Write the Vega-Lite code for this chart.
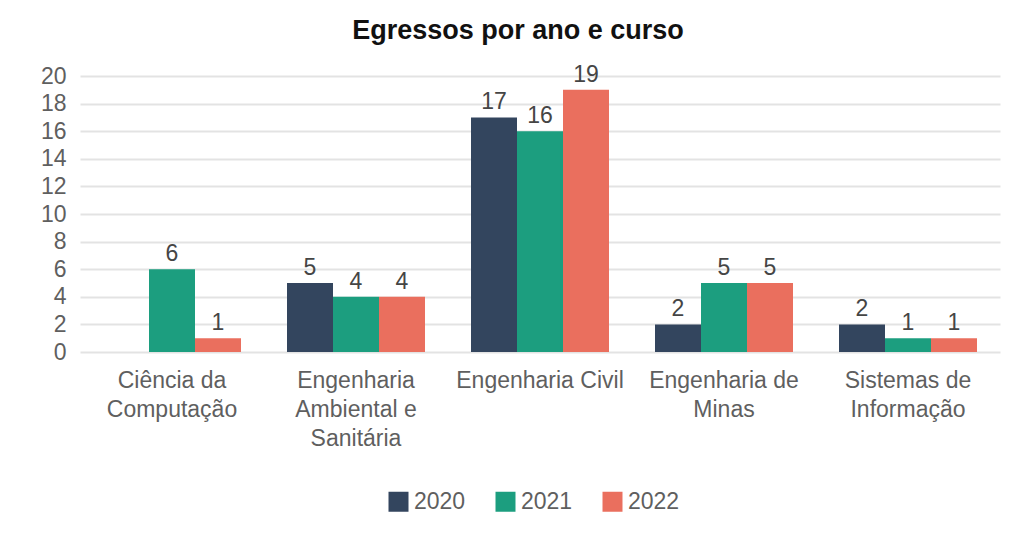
{
  "$schema": "https://vega.github.io/schema/vega-lite/v6.json",
  "width": 920,
  "height": 276,
  "autosize": "none",
  "padding": {"left": 80, "top": 76, "right": 12, "bottom": 181},
  "background": "white",
  "title": {"text": "Egressos por ano e curso", "fontSize": 27, "fontWeight": "bold", "color": "#111111", "font": "Liberation Sans", "offset": 19, "anchor": "middle", "dx": -22},
  "data": {"values": [
    {"curso": "Ciência da Computação", "ano": "2020", "egressos": null},
    {"curso": "Ciência da Computação", "ano": "2021", "egressos": 6},
    {"curso": "Ciência da Computação", "ano": "2022", "egressos": 1},
    {"curso": "Engenharia Ambiental e Sanitária", "ano": "2020", "egressos": 5},
    {"curso": "Engenharia Ambiental e Sanitária", "ano": "2021", "egressos": 4},
    {"curso": "Engenharia Ambiental e Sanitária", "ano": "2022", "egressos": 4},
    {"curso": "Engenharia Civil", "ano": "2020", "egressos": 17},
    {"curso": "Engenharia Civil", "ano": "2021", "egressos": 16},
    {"curso": "Engenharia Civil", "ano": "2022", "egressos": 19},
    {"curso": "Engenharia de Minas", "ano": "2020", "egressos": 2},
    {"curso": "Engenharia de Minas", "ano": "2021", "egressos": 5},
    {"curso": "Engenharia de Minas", "ano": "2022", "egressos": 5},
    {"curso": "Sistemas de Informação", "ano": "2020", "egressos": 2},
    {"curso": "Sistemas de Informação", "ano": "2021", "egressos": 1},
    {"curso": "Sistemas de Informação", "ano": "2022", "egressos": 1}
  ]},
  "encoding": {
    "x": {"field": "curso", "type": "nominal", "sort": null,
      "scale": {"paddingInner": 0.25, "paddingOuter": 0.125},
      "axis": {"title": null, "labelAngle": 0, "domain": false, "ticks": false, "labelFontSize": 23, "labelColor": "#5f5f5f", "labelFont": "Liberation Sans", "labelPadding": 17, "labelLineHeight": 29, "labelLimit": 300,
        "labelExpr": "datum.label == 'Ciência da Computação' ? ['Ciência da', 'Computação'] : datum.label == 'Engenharia Ambiental e Sanitária' ? ['Engenharia', 'Ambiental e', 'Sanitária'] : datum.label == 'Engenharia de Minas' ? ['Engenharia de', 'Minas'] : datum.label == 'Sistemas de Informação' ? ['Sistemas de', 'Informação'] : datum.label"}},
    "xOffset": {"field": "ano", "type": "nominal"},
    "y": {"field": "egressos", "type": "quantitative",
      "scale": {"domain": [0, 20]},
      "axis": {"title": null, "values": [0,2,4,6,8,10,12,14,16,18,20], "domain": false, "ticks": false, "labelFontSize": 23, "labelColor": "#5f5f5f", "labelFont": "Liberation Sans", "labelPadding": 14, "gridColor": "#e3e3e3", "gridWidth": 2}}
  },
  "layer": [
    {"mark": {"type": "bar", "stroke": null},
      "encoding": {
        "color": {"field": "ano", "type": "nominal",
          "scale": {"domain": ["2020", "2021", "2022"], "range": ["#33455e", "#1c9e7f", "#ea6f5e"]},
          "legend": {"title": null, "orient": "none", "legendX": 307, "legendY": 414, "direction": "horizontal", "symbolType": "square", "symbolSize": 400, "symbolStrokeWidth": 0, "labelFontSize": 23, "labelColor": "#5f5f5f", "labelFont": "Liberation Sans", "columnPadding": 28, "labelOffset": 4}
        }
      }},
    {"mark": {"type": "text", "dy": -15, "fontSize": 23, "color": "#454545", "font": "Liberation Sans"},
      "encoding": {"text": {"field": "egressos", "type": "quantitative"}}}
  ],
  "config": {"view": {"stroke": null}}
}
